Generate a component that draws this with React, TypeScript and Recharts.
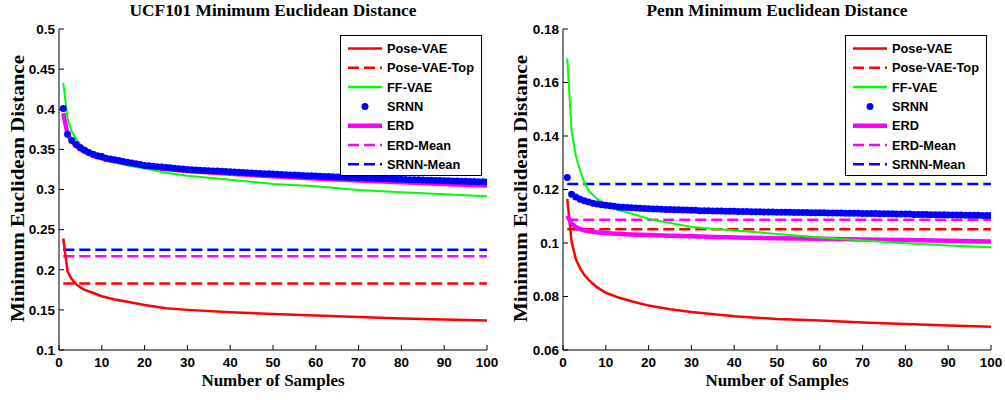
import { LineChart, Line, XAxis, YAxis, Legend, Label } from "recharts";

const samples = [1, 2, 3, 4, 5, 6, 8, 10, 13, 16, 20, 25, 30, 40, 50, 60, 70, 80, 90, 100];
const xTicks = [0, 10, 20, 30, 40, 50, 60, 70, 80, 90, 100];

// UCF101 panel
const ucfYTicks = [0.1, 0.15, 0.2, 0.25, 0.3, 0.35, 0.4, 0.45, 0.5];
const ucfPoseVae = [0.239, 0.198, 0.188, 0.182, 0.178, 0.175, 0.171, 0.167, 0.163, 0.16, 0.156, 0.152, 0.15, 0.147, 0.145, 0.143, 0.141, 0.1394, 0.1381, 0.1369];
const ucfFfVae = [0.433, 0.388, 0.372, 0.363, 0.356, 0.352, 0.345, 0.34, 0.334, 0.33, 0.326, 0.321, 0.317, 0.312, 0.307, 0.304, 0.2995, 0.2965, 0.294, 0.2915];
const ucfErd = [0.395, 0.369, 0.36, 0.354, 0.35, 0.347, 0.342, 0.339, 0.335, 0.332, 0.329, 0.3255, 0.323, 0.3195, 0.3165, 0.3138, 0.3113, 0.309, 0.307, 0.305];
const ucfSrnn = [
  0.401, 0.369, 0.361, 0.356, 0.352, 0.349, 0.346, 0.344, 0.342, 0.341,
  0.339, 0.338, 0.337, 0.336, 0.335, 0.334, 0.333, 0.332, 0.331, 0.33,
  0.3295, 0.329, 0.3285, 0.328, 0.3275, 0.327, 0.3265, 0.326, 0.3255, 0.325,
  0.3247, 0.3244, 0.3241, 0.3238, 0.3235, 0.3232, 0.3229, 0.3226, 0.3223, 0.322,
  0.3217, 0.3214, 0.3211, 0.3208, 0.3205, 0.3202, 0.32, 0.3197, 0.3195, 0.3192,
  0.319, 0.3187, 0.3185, 0.3182, 0.318, 0.3177, 0.3175, 0.3172, 0.317, 0.3167,
  0.3165, 0.3163, 0.3161, 0.3159, 0.3157, 0.3155, 0.3153, 0.3151, 0.3149, 0.3147,
  0.3145, 0.3143, 0.3141, 0.3139, 0.3137, 0.3135, 0.3133, 0.3131, 0.3129, 0.3127,
  0.3125, 0.3123, 0.3121, 0.312, 0.3118, 0.3116, 0.3115, 0.3113, 0.3111, 0.311,
  0.3108, 0.3107, 0.3105, 0.3104, 0.3102, 0.3101, 0.31, 0.3098, 0.3097, 0.3095,
];
const ucfPoseVaeTop = 0.183;
const ucfErdMean = 0.2167;
const ucfSrnnMean = 0.225;

// Penn panel
const pennYTicks = [0.06, 0.08, 0.1, 0.12, 0.14, 0.16, 0.18];
const pennPoseVae = [0.1165, 0.1005, 0.094, 0.0905, 0.088, 0.0862, 0.0834, 0.0814, 0.0796, 0.0782, 0.0766, 0.0752, 0.0742, 0.0726, 0.0716, 0.071, 0.0703, 0.0697, 0.0692, 0.0687];
const pennFfVae = [0.169, 0.142, 0.1325, 0.127, 0.1225, 0.1195, 0.1165, 0.1145, 0.1122, 0.111, 0.109, 0.1075, 0.106, 0.1047, 0.1034, 0.1021, 0.1009, 0.0999, 0.0991, 0.0984];
const pennErd = [0.1102, 0.1072, 0.106, 0.1052, 0.1047, 0.1044, 0.104, 0.1037, 0.1034, 0.1032, 0.103, 0.1027, 0.1025, 0.1021, 0.1018, 0.1016, 0.1013, 0.1011, 0.1008, 0.1006];
const pennSrnn = [
  0.1245, 0.1182, 0.1172, 0.1164, 0.1158, 0.1153, 0.1149, 0.1146, 0.1143, 0.1141,
  0.1139, 0.1137, 0.1135, 0.1134, 0.1133, 0.1132, 0.1131, 0.113, 0.1129, 0.1128,
  0.1127, 0.1127, 0.1126, 0.1125, 0.1125, 0.1124, 0.1124, 0.1123, 0.1123, 0.1122,
  0.1122, 0.1121, 0.1121, 0.1121, 0.112, 0.112, 0.112, 0.1119, 0.1119, 0.1119,
  0.1118, 0.1118, 0.1118, 0.1117, 0.1117, 0.1117, 0.1116, 0.1116, 0.1116, 0.1115,
  0.1115, 0.1115, 0.1115, 0.1114, 0.1114, 0.1114, 0.1114, 0.1113, 0.1113, 0.1113,
  0.1113, 0.1112, 0.1112, 0.1112, 0.1112, 0.1111, 0.1111, 0.1111, 0.1111, 0.111,
  0.111, 0.111, 0.111, 0.1109, 0.1109, 0.1109, 0.1109, 0.1108, 0.1108, 0.1108,
  0.1108, 0.1107, 0.1107, 0.1107, 0.1107, 0.1106, 0.1106, 0.1106, 0.1106, 0.1105,
  0.1105, 0.1105, 0.1105, 0.1104, 0.1104, 0.1104, 0.1104, 0.1103, 0.1103, 0.1103,
];
const pennPoseVaeTop = 0.1051;
const pennErdMean = 0.1087;
const pennSrnnMean = 0.1221;

const RED = "#ff0000";
const GREEN = "#00ff00";
const BLUE = "#0000ff";
const MAGENTA = "#ff00ff";
const DASH = "11 5";

const legendItems = [
  { name: "Pose-VAE", color: RED, width: 2.5 },
  { name: "Pose-VAE-Top", color: RED, width: 2.5, dash: DASH },
  { name: "FF-VAE", color: GREEN, width: 2.5 },
  { name: "SRNN", color: BLUE, dot: true },
  { name: "ERD", color: MAGENTA, width: 4.5 },
  { name: "ERD-Mean", color: MAGENTA, width: 2.5, dash: DASH },
  { name: "SRNN-Mean", color: BLUE, width: 2.5, dash: DASH },
];

const sansBold = "'Liberation Sans', Arial, sans-serif";
const serifBold = "'Liberation Serif', 'Times New Roman', serif";
const tickStyle = { fill: "#000", fontSize: 13.5, fontWeight: 700, fontFamily: sansBold };

const curve = (vals: number[]) => samples.map((n, i) => ({ n, v: vals[i] }));
const everySample = (vals: number[]) => vals.map((v, i) => ({ n: i + 1, v }));
const flat = (v: number) => [{ n: 1, v }, { n: 100, v }];

function LegendBox() {
  return (
    <svg width={142} height={141} style={{ display: "block" }}>
      <rect x={0.5} y={0.5} width={141} height={140} fill="#fff" stroke="#000" />
      {legendItems.map((it, i) => {
        const y = 13.5 + i * 19.3;
        return (
          <g key={it.name}>
            {it.dot ? (
              <circle cx={25} cy={y} r={3.5} fill={it.color} />
            ) : (
              <line x1={8} x2={42} y1={y} y2={y} stroke={it.color} strokeWidth={it.width} strokeDasharray={it.dash} />
            )}
            <text x={47} y={y} dy="0.36em" fontSize={12.8} fontWeight={700} fontFamily={sansBold} fill="#000">
              {it.name}
            </text>
          </g>
        );
      })}
    </svg>
  );
}

function Panel(props: any) {
  const { title, left, width, yWidth, right, yTicks, yLabelX, legendLeft, titleLen, s } = props;
  const domain = [yTicks[0], yTicks[yTicks.length - 1]];
  const plotCenter = yWidth + (width - yWidth - right) / 2;

  const xLabel = (p: any) => {
    const vb = p.viewBox || { x: yWidth, y: 350, width: width - yWidth - right };
    return (
      <text x={vb.x + vb.width / 2} y={vb.y + 36} textAnchor="middle" fontSize={17} fontWeight={700} fontFamily={serifBold} fill="#000">
        Number of Samples
      </text>
    );
  };
  const yLabel = (p: any) => {
    const vb = p.viewBox || { x: 0, y: 29, height: 321 };
    const cx = vb.x + yLabelX;
    const cy = vb.y + vb.height / 2 - 1;
    return (
      <text x={cx} y={cy} transform={`rotate(-90 ${cx} ${cy})`} textAnchor="middle" fontSize={18} fontWeight={700}
        fontFamily={serifBold} textLength={267} lengthAdjust="spacingAndGlyphs" fill="#000">
        Minimum Euclidean Distance
      </text>
    );
  };

  const common = { xAxisId: "b", yAxisId: "l", dataKey: "v", type: "linear" as const, dot: false, activeDot: false, isAnimationActive: false };

  return (
    <div style={{ position: "absolute", left, top: 0, width, height: 400 }}>
      <LineChart width={width} height={400} margin={{ top: 29, right, bottom: 0, left: 0 }}>
        <XAxis xAxisId="b" dataKey="n" type="number" domain={[0, 100]} ticks={xTicks} interval={0} height={50}
          tickSize={-5} tickMargin={12} tick={tickStyle} stroke="#000" allowDataOverflow>
          <Label content={xLabel} />
        </XAxis>
        <XAxis xAxisId="t" orientation="top" dataKey="n" type="number" domain={[0, 100]} ticks={xTicks} interval={0}
          height={0} tickSize={-5} tick={false} stroke="#000" allowDataOverflow />
        <YAxis yAxisId="l" type="number" domain={domain} ticks={yTicks} interval={0} width={yWidth}
          tickSize={-5} tickMargin={9} tick={tickStyle} stroke="#000" allowDataOverflow>
          <Label content={yLabel} />
        </YAxis>
        <YAxis yAxisId="r" orientation="right" type="number" domain={domain} ticks={yTicks} interval={0} width={0}
          tickSize={-5} tick={false} stroke="#000" allowDataOverflow />
        <Legend layout="horizontal" verticalAlign="middle" align="center"
          wrapperStyle={{ left: legendLeft, top: 35, width: 142, height: 141 }} content={() => <LegendBox />} />

        <Line {...common} name="Pose-VAE-Top" data={flat(s.poseTop)} stroke={RED} strokeWidth={2.5} strokeDasharray={DASH} />
        <Line {...common} name="ERD-Mean" data={flat(s.erdMean)} stroke={MAGENTA} strokeWidth={2.5} strokeDasharray={DASH} />
        <Line {...common} name="SRNN-Mean" data={flat(s.srnnMean)} stroke={BLUE} strokeWidth={2.5} strokeDasharray={DASH} />
        <Line {...common} name="Pose-VAE" data={curve(s.pose)} stroke={RED} strokeWidth={2.5} />
        <Line {...common} name="ERD" data={curve(s.erd)} stroke={MAGENTA} strokeWidth={4.5} />
        <Line {...common} name="FF-VAE" data={curve(s.ff)} stroke={GREEN} strokeWidth={2} />
        <Line {...common} name="SRNN" data={everySample(s.srnn)} stroke="none" strokeWidth={0}
          dot={{ r: 3.5, fill: BLUE, stroke: "none" }} />
      </LineChart>
      <svg width={width} height={24} style={{ position: "absolute", left: 0, top: 0, pointerEvents: "none" }}>
        <text x={plotCenter} y={16} textAnchor="middle" fontSize={17} fontWeight={700} fontFamily={serifBold}
          textLength={titleLen} lengthAdjust="spacingAndGlyphs" fill="#000">
          {title}
        </text>
      </svg>
    </div>
  );
}

export default function App() {
  return (
    <div style={{ position: "absolute", left: 0, top: 0, width: 1005, height: 400, background: "#fff" }}>
      <Panel title="UCF101 Minimum Euclidean Distance" left={0} width={500} yWidth={59} right={13}
        yTicks={ucfYTicks} yLabelX={23.5} legendLeft={340} titleLen={287}
        s={{ pose: ucfPoseVae, poseTop: ucfPoseVaeTop, ff: ucfFfVae, srnn: ucfSrnn, erd: ucfErd, erdMean: ucfErdMean, srnnMean: ucfSrnnMean }} />
      <Panel title="Penn Minimum Euclidean Distance" left={500} width={505} yWidth={63} right={14}
        yTicks={pennYTicks} yLabelX={26.5} legendLeft={345} titleLen={261}
        s={{ pose: pennPoseVae, poseTop: pennPoseVaeTop, ff: pennFfVae, srnn: pennSrnn, erd: pennErd, erdMean: pennErdMean, srnnMean: pennSrnnMean }} />
    </div>
  );
}
